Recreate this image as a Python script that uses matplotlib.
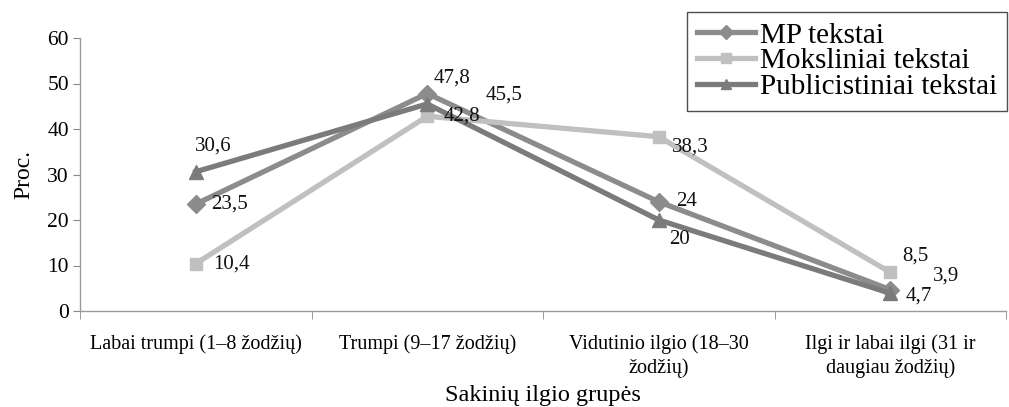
import matplotlib
matplotlib.use('Agg')
import matplotlib.pyplot as plt

plt.rcParams['font.family'] = ['Liberation Serif', 'DejaVu Serif']

groups = ['Labai trumpi (1–8 žodžių)', 'Trumpi (9–17 žodžių)',
          'Vidutinio ilgio (18–30\nžodžių)', 'Ilgi ir labai ilgi (31 ir\ndaugiau žodžių)']
mp = [23.5, 47.8, 24, 4.7]
moksl = [10.4, 42.8, 38.3, 8.5]
publ = [30.6, 45.5, 20, 3.9]
series_names = ['MP tekstai', 'Moksliniai tekstai', 'Publicistiniai tekstai']

# label offsets in pixels for each series
mp_off = [(34, 0), (25, 15), (28, 0), (29, -6)]
moksl_off = [(36, 0), (35, 0), (32, -10), (25, 16)]
publ_off = [(18, 26), (77, 9), (21, -20), (56, 17)]

fig = plt.figure(figsize=(10.09, 4.07), dpi=100)
ax = fig.add_axes([80 / 1009, 96 / 407, 926 / 1009, 273 / 407])

x = range(len(groups))
ax.plot(x, mp, c='#8c8c8c', lw=3.8, marker='D', ms=9, label=series_names[0])
ax.plot(x, moksl, c='#c0c0c0', lw=3.8, marker='s', ms=9, label=series_names[1])
ax.plot(x, publ, c='#7b7b7b', lw=3.8, marker='^', ms=10, label=series_names[2])

for vals, offs in [(mp, mp_off), (moksl, moksl_off), (publ, publ_off)]:
    for i, v in enumerate(vals):
        txt = ('%g' % v).replace('.', ',')
        ax.annotate(txt, (i, v), xytext=offs[i], textcoords='offset pixels',
                    ha='center', va='center', fontsize=15, color='#111111')

ax.set_xlim(-0.5, 3.5)
ax.set_ylim(0, 60)
ax.set_yticks(range(0, 61, 10))
ax.set_xticks(list(x))
ax.set_xticklabels(groups, fontsize=14.5, linespacing=1.25)
ax.set_xticks([-0.5, 0.5, 1.5, 2.5, 3.5], minor=True)
ax.tick_params(axis='x', which='major', length=0, pad=17)
ax.tick_params(axis='x', which='minor', length=6, color='#888888')
ax.tick_params(axis='y', length=5, color='#888888', labelsize=15.5, pad=3)
for s in ['top', 'right']:
    ax.spines[s].set_visible(False)
for s in ['left', 'bottom']:
    ax.spines[s].set_color('#999999')
    ax.spines[s].set_linewidth(1.0)

ax.set_ylabel('Proc.', fontsize=17, labelpad=9)
ax.set_xlabel('Sakinių ilgio grupės', fontsize=17.5, labelpad=5)

leg = ax.legend(loc='upper right', bbox_to_anchor=(1007 / 1009, 395 / 407),
                bbox_transform=fig.transFigure, fontsize=21, frameon=True,
                fancybox=False, borderpad=0.35, labelspacing=-0.02,
                handlelength=2.0, handletextpad=0.15, borderaxespad=0,
                markerscale=0.75)
leg.get_frame().set_edgecolor('#222222')
leg.get_frame().set_linewidth(1.0)

fig.savefig('out.png', dpi=100)
